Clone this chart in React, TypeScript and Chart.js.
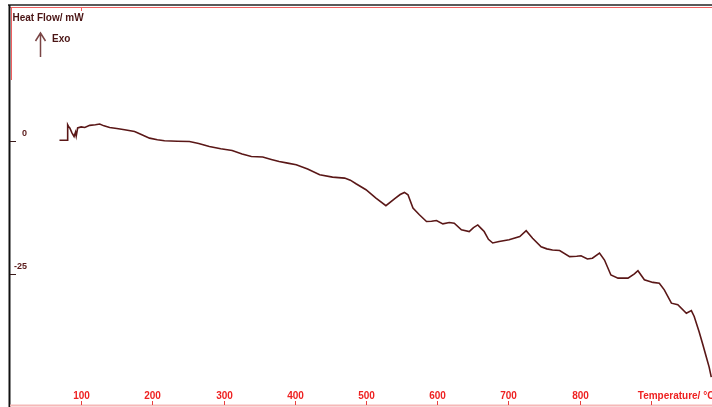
import React, { useEffect, useRef } from "react";
import { Chart, registerables } from "chart.js";
Chart.register(...registerables);

const temperatures = [
  69.5, 80.5, 81, 82.5, 84, 87, 90, 92, 93, 95, 100, 105, 112, 120, 126, 132, 140, 150, 161, 175,
  186, 196, 207, 217, 235, 252, 265, 280, 296, 312, 326, 339, 355, 367, 378, 390, 402, 418, 435, 453,
  470, 478, 486, 500, 514, 528, 540, 548, 554, 559, 566, 575, 585, 592, 599, 608, 617, 624, 634, 645,
  651, 657, 662, 666, 672, 678, 687, 701, 716, 725, 734, 746, 754, 762, 772, 786, 796, 802, 811, 818,
  828, 835, 844, 854, 868, 877, 882, 891, 903, 912, 919, 929, 938, 950, 957, 961, 968, 973, 978, 982, 985,
];
const heatFlow = [
  0.1, 0.1, 3.0, 2.6, 2.4, 1.5, 0.8, 1.6, 0.9, 2.4, 2.6, 2.5, 2.9, 3.0, 3.15, 2.8, 2.5, 2.3, 2.07, 1.75,
  1.1, 0.5, 0.2, 0.0, -0.1, -0.15, -0.5, -1.07, -1.5, -1.82, -2.5, -2.95, -3.06, -3.5, -3.89, -4.2, -4.51, -5.32, -6.39, -6.82,
  -7.01, -7.4, -8.08, -9.2, -10.77, -12.2, -10.9, -10.1, -9.7, -10.15, -12.65, -13.9, -15.17, -15.1, -14.98, -15.6, -15.36, -15.47, -16.73, -17.05,
  -16.3, -15.8, -16.5, -17.05, -18.5, -19.2, -18.93, -18.6, -18.0, -16.9, -18.3, -19.9, -20.3, -20.5, -20.6, -21.75, -21.7, -21.6, -22.2, -22.05,
  -21.1, -22.4, -25.2, -25.8, -25.8, -25.0, -24.4, -26.1, -26.6, -26.75, -28.0, -30.5, -30.8, -32.4, -31.9, -33.0, -35.9, -38.2, -40.6, -42.5, -44.4,
];
const xTickValues = [100, 200, 300, 400, 500, 600, 700, 800, 900];
const xTickLabels = ["100", "200", "300", "400", "500", "600", "700", "800", ""];
const xAxisTitle = "Temperature/ °C";
const yTickValues = [0, -25];
const yTickLabels = ["0", "-25"];
const yAxisTitle = "Heat Flow/ mW";
const exoLabel = "Exo";

export default function App() {
  const ref = useRef<HTMLCanvasElement>(null);
  useEffect(() => {
    document.body.style.margin = "0";
    const deco = {
      id: "deco",
      beforeDatasetsDraw(chart: any) {
        const ctx = chart.ctx as CanvasRenderingContext2D;
        const xs = chart.scales.x;
        const ys = chart.scales.y;
        const W = chart.width;
        const H = chart.height;
        ctx.save();
        // top border
        ctx.strokeStyle = "#5a5a5a";
        ctx.lineWidth = 2;
        ctx.beginPath();
        ctx.moveTo(8, 5);
        ctx.lineTo(W, 5);
        ctx.stroke();
        ctx.strokeStyle = "#f06060";
        ctx.lineWidth = 1;
        ctx.beginPath();
        ctx.moveTo(10, 7.5);
        ctx.lineTo(W, 7.5);
        ctx.stroke();
        ctx.beginPath();
        ctx.moveTo(Math.round(xs.getPixelForValue(100)) + 0.5, 7);
        ctx.lineTo(Math.round(xs.getPixelForValue(100)) + 0.5, 11);
        ctx.stroke();
        ctx.beginPath();
        ctx.moveTo(11.5, 7);
        ctx.lineTo(11.5, 80);
        ctx.stroke();
        // left axis
        ctx.strokeStyle = "#111111";
        ctx.lineWidth = 2;
        ctx.beginPath();
        ctx.moveTo(9.5, 5);
        ctx.lineTo(9.5, H);
        ctx.stroke();
        // bottom axis
        ctx.strokeStyle = "#f5b8b8";
        ctx.lineWidth = 2;
        ctx.beginPath();
        ctx.moveTo(10, 405.5);
        ctx.lineTo(W, 405.5);
        ctx.stroke();
        // x ticks
        ctx.strokeStyle = "#e84040";
        ctx.lineWidth = 1;
        ctx.font = "bold 10px 'Liberation Sans', Arial, sans-serif";
        ctx.fillStyle = "#ee2222";
        ctx.textAlign = "center";
        ctx.textBaseline = "middle";
        xTickValues.forEach((v, i) => {
          const px = Math.round(xs.getPixelForValue(v)) + 0.5;
          ctx.beginPath();
          ctx.moveTo(px, 401);
          ctx.lineTo(px, 405);
          ctx.stroke();
          if (xTickLabels[i]) ctx.fillText(xTickLabels[i], px, 396);
        });
        ctx.textAlign = "left";
        ctx.fillText(xAxisTitle, xs.getPixelForValue(900) - 13, 396);
        // y ticks
        ctx.strokeStyle = "#3a1a1a";
        ctx.fillStyle = "#5a1a1a";
        ctx.font = "bold 9px 'Liberation Sans', Arial, sans-serif";
        ctx.textAlign = "right";
        yTickValues.forEach((v, i) => {
          const py = Math.round(ys.getPixelForValue(v)) + 0.5;
          ctx.beginPath();
          ctx.moveTo(10, py);
          ctx.lineTo(16, py);
          ctx.stroke();
          ctx.fillText(yTickLabels[i], 27, py - 7.5);
        });
        // titles
        ctx.font = "bold 10px 'Liberation Sans', Arial, sans-serif";
        ctx.fillStyle = "#4a1515";
        ctx.textAlign = "left";
        ctx.fillText(yAxisTitle, 12.5, 18.5);
        ctx.fillText(exoLabel, 52, 39.5);
        // arrow
        ctx.strokeStyle = "#7a4545";
        ctx.lineWidth = 1.5;
        ctx.beginPath();
        ctx.moveTo(40.5, 33);
        ctx.lineTo(40.5, 57);
        ctx.moveTo(35.5, 41);
        ctx.lineTo(40.5, 33);
        ctx.lineTo(45.5, 41);
        ctx.stroke();
        ctx.restore();
      },
    };
    const chart = new Chart(ref.current as HTMLCanvasElement, {
      type: "scatter",
      data: {
        datasets: [
          {
            data: temperatures.map((t, i) => ({ x: t, y: heatFlow[i] })),
            showLine: true,
            borderColor: "#5a1717",
            borderWidth: 1.6,
            pointRadius: 0,
            tension: 0,
            fill: false,
          },
        ],
      },
      options: {
        animation: false,
        responsive: false,
        maintainAspectRatio: false,
        events: [],
        layout: { padding: { left: 10, top: 5, right: 0, bottom: 0 } },
        plugins: { legend: { display: false }, tooltip: { enabled: false } },
        scales: {
          x: { type: "linear", min: 0, max: 986, display: false },
          y: { type: "linear", min: -50, max: 25.5, display: false },
        },
      },
      plugins: [deco],
    } as any);
    return () => chart.destroy();
  }, []);
  return <canvas ref={ref} width={712} height={407} style={{ display: "block" }} />;
}
